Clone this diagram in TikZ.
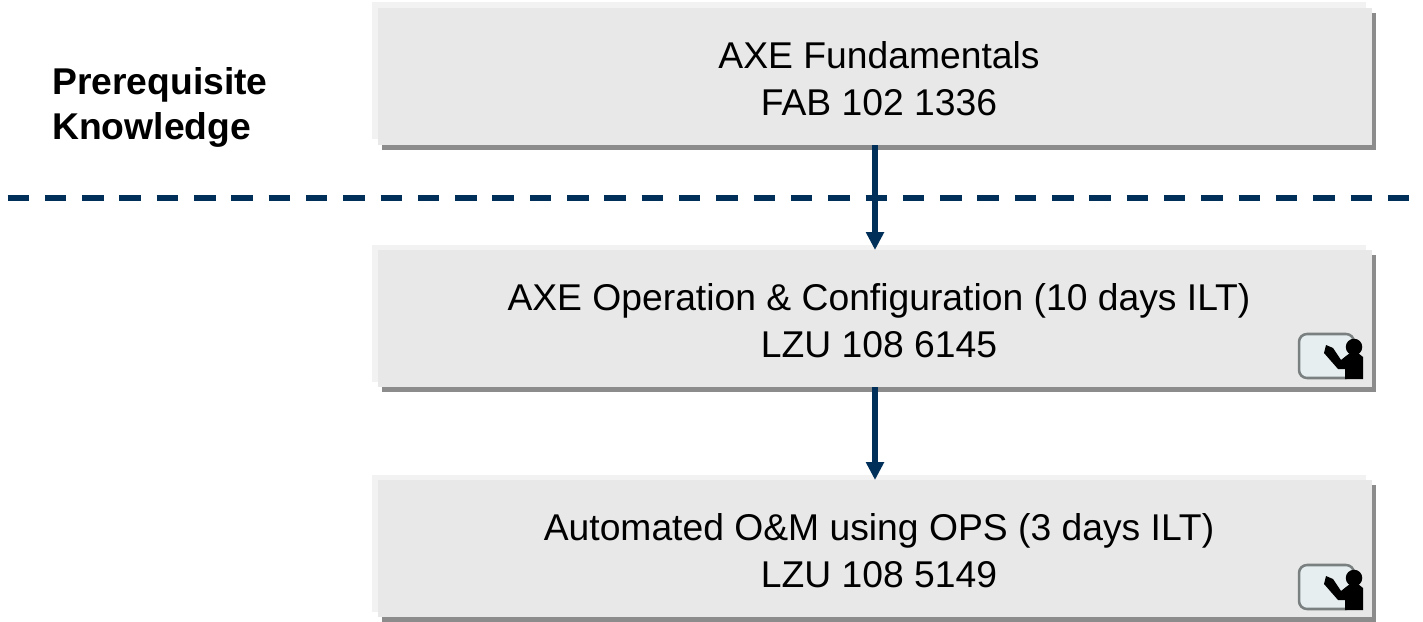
\documentclass[tikz,border=0pt]{standalone}
\usepackage{fontspec}
\setmainfont{Liberation Sans}
\usetikzlibrary{arrows.meta}
\definecolor{navy}{HTML}{00305A}
\definecolor{mainfill}{HTML}{E8E8E8}
\definecolor{lightfill}{HTML}{F2F2F2}
\definecolor{shadowfill}{HTML}{8C8C8C}
\definecolor{boardfill}{HTML}{E6EEF0}
\definecolor{boardline}{HTML}{7A8080}
\tikzset{
  x=0.75pt,y=-0.75pt,
  mainbox/.style={fill=mainfill,draw=none,inner sep=0pt,outer sep=0pt,minimum width=745.5pt,minimum height=102.75pt},
  boxtext/.style={align=center,text=black,font=\fontsize{27.95}{34.9}\selectfont,inner sep=0pt},
  headtext/.style={align=left,anchor=north west,text=black,font=\fontsize{27.95}{33.5}\selectfont\bfseries,inner sep=0pt},
  link/.style={draw=navy,line width=4.2pt,-{Triangle[length=13.5pt,width=13pt,fill=navy]},shorten >=0pt},
  divider/.style={draw=navy,line width=3.8pt,dash pattern=on 16.1pt off 11.88pt},
  teacher/.pic={
    \draw[boardline,fill=boardfill,line width=1.9pt,rounded corners=6pt] (-29,-22) rectangle (26,22);
    \fill[black] (26,-9) circle[radius=6.2pt];
    \fill[black] (-2,-11) -- (5,-8) -- (13,4) -- (18,0) -- (22,-3) -- (30,-3) -- (35,1) -- (35,23) -- (17,23) -- (17,13) -- (10,13) -- (-4,-3) -- cycle;
  }
}
\begin{document}
\begin{tikzpicture}
\useasboundingbox (0,0) rectangle (1423,621);
% box 1
\fill[shadowfill] (382,13) rectangle (1376,150);
\fill[lightfill] (372,2) rectangle (1366,139);
\node[mainbox] (b1) at (875,76.5) {};
% box 2
\fill[shadowfill] (382,255) rectangle (1376,392);
\fill[lightfill] (372,245) rectangle (1366,382);
\node[mainbox] (b2) at (875,318.5) {};
% box 3
\fill[shadowfill] (382,485) rectangle (1376,622);
\fill[lightfill] (372,475) rectangle (1366,612);
\node[mainbox] (b3) at (875,548.5) {};
% texts
\node[boxtext] (t1) at (879,78.5) {AXE Fundamentals\\FAB 102 1336};
\node[boxtext] (t2) at (879,320.5) {AXE Operation \& Configuration (10 days ILT)\\LZU 108 6145};
\node[boxtext] (t3) at (879,550.5) {Automated O\&M using OPS (3 days ILT)\\LZU 108 5149};
\node[headtext] (head) at (52,67.5) {Prerequisite\\Knowledge};
% divider
\coordinate (dl) at (7.5,198);
\coordinate (dr) at (1410.5,198);
\draw[divider] (dl) -- (dr);
% connectors
\draw[link] (b1.south) -- (b2.north);
\draw[link] (b2.south) -- (b3.north);
% icons
\pic at (1328,356) {teacher};
\pic at (1328,587) {teacher};
\end{tikzpicture}
\end{document}
